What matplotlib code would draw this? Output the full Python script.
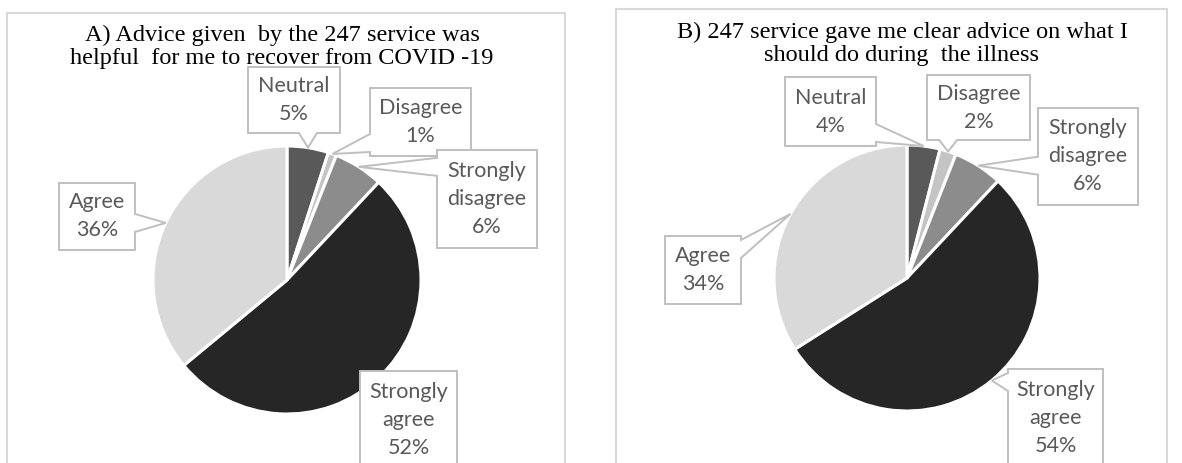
import math

import matplotlib
matplotlib.use('Agg')
import matplotlib.pyplot as plt
from matplotlib.patches import Polygon, Rectangle

# figure size in pixels (dpi 100)
W, H = 1182, 463

categories = ['Neutral', 'Disagree', 'Strongly\ndisagree', 'Strongly\nagree', 'Agree']
share_a = [5, 1, 6, 52, 36]
share_b = [4, 2, 6, 54, 34]
title_a = 'A) Advice given  by the 247 service was\nhelpful  for me to recover from COVID -19'
title_b = 'B) 247 service gave me clear advice on what I\nshould do during  the illness'

slice_colors = ['#595959', '#c4c4c4', '#8c8c8c', '#262626', '#d9d9d9']
label_color = '#595959'
box_edge = '#bfbfbf'

# layout in image pixels (x right, y down)
panels = [
    dict(values=share_a, title=title_a, frame=(7, 13, 565, 480),
         center=(287, 280), radius=134, title_xy=(282, 47),
         boxes=[(248, 340, 67, 133), (370, 471, 88, 156), (437, 537, 150, 248),
                (360, 457, 371, 469), (59, 135, 183, 250)]),
    dict(values=share_b, title=title_b, frame=(616, 9, 1167, 480),
         center=(907, 278), radius=133, title_xy=(902, 44),
         boxes=[(785, 876, 77, 146), (927, 1030, 75, 140), (1038, 1138, 108, 205),
                (1008, 1103, 369, 467), (665, 741, 236, 304)]),
]


def callout(ax, box, tip, label, base=18):
    '''
    Draws a boxed label with a wedge pointing at tip (image coords).
    '''
    x0, x1, y0, y1 = box
    cx, cy = (x0 + x1) / 2, (y0 + y1) / 2
    tx, ty = tip
    pts = [(x0, y0), (x1, y0), (x1, y1), (x0, y1)]
    inside = x0 <= tx <= x1 and y0 <= ty <= y1
    if not inside:
        nx = (tx - cx) / ((x1 - x0) / 2)
        ny = (ty - cy) / ((y1 - y0) / 2)
        h = base / 2
        if abs(nx) >= abs(ny):
            b = min(max(ty, y0 + h + 4), y1 - h - 4)
            if nx > 0:
                pts = [(x0, y0), (x1, y0), (x1, b - h), (tx, ty), (x1, b + h), (x1, y1), (x0, y1)]
            else:
                pts = [(x0, y0), (x1, y0), (x1, y1), (x0, y1), (x0, b + h), (tx, ty), (x0, b - h)]
        else:
            b = min(max(tx, x0 + h + 4), x1 - h - 4)
            if ny > 0:
                pts = [(x0, y0), (x1, y0), (x1, y1), (b + h, y1), (tx, ty), (b - h, y1), (x0, y1)]
            else:
                pts = [(x0, y0), (b - h, y0), (tx, ty), (b + h, y0), (x1, y0), (x1, y1), (x0, y1)]
    ax.add_patch(Polygon([(x, H - y) for x, y in pts], closed=True,
                         facecolor='white', edgecolor=box_edge, lw=1.4, zorder=3))
    ax.text(cx, H - cy, label, ha='center', va='center', color=label_color,
            family='Lato', fontsize=15.5, linespacing=1.5, zorder=4)


fig = plt.figure(figsize=(W / 100, H / 100), dpi=100)
ax = fig.add_axes([0, 0, 1, 1])

for p in panels:
    fx0, fy0, fx1, fy1 = p['frame']
    ax.add_patch(Rectangle((fx0, H - fy1), fx1 - fx0, fy1 - fy0, fill=False,
                           edgecolor='#d9d9d9', lw=1.5, zorder=0))
    cx, cy = p['center']
    r = p['radius']
    vals = p['values']
    ax.pie(vals, colors=slice_colors, startangle=90, counterclock=False,
           center=(cx, H - cy), radius=r,
           wedgeprops=dict(edgecolor='white', linewidth=2.2))
    tot = sum(vals)
    cum = 0
    for v, cat, box in zip(vals, categories, p['boxes']):
        # leader points at the middle of the slice edge
        ang = math.radians(90 - 360 * (cum + v / 2) / tot)
        cum += v
        tip = (cx + r * math.cos(ang), cy - r * math.sin(ang))
        callout(ax, box, tip, f'{cat}\n{v}%')
    tx, ty = p['title_xy']
    ax.text(tx, H - ty, p['title'], ha='center', va='center', family='Liberation Serif',
            fontsize=17.5, linespacing=1.12, color='black', zorder=5)

ax.set_xlim(0, W)
ax.set_ylim(0, H)
ax.set_axis_off()
fig.savefig('out.png', dpi=100)
